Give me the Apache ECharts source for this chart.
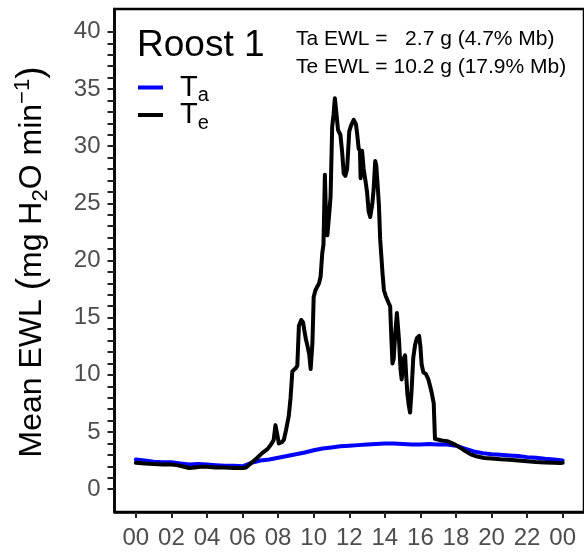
<!DOCTYPE html>
<html><head><meta charset="utf-8">
<script src="https://cdn.jsdelivr.net/npm/echarts@6/dist/echarts.min.js"></script>
<style>html,body{margin:0;padding:0;background:#fff}#c{width:584px;height:553px}</style>
</head><body><div id="c"></div>
<script>
// Ta (air temperature) EWL, mg H2O / min
const taHours  = [0,0.5,1,1.5,2,2.5,3,3.5,4,4.5,5,5.5,6,6.5,7,7.5,8,8.5,9,9.5,10,10.5,11,11.5,12,12.5,13,13.5,14,14.5,15,15.5,16,16.5,17,17.5,18,18.5,19,19.5,20,20.5,21,21.5,22,22.5,23,23.5,24];
const taValues = [2.6,2.5,2.4,2.35,2.35,2.25,2.15,2.2,2.15,2.1,2.05,2.05,2.0,2.3,2.5,2.6,2.75,2.9,3.05,3.2,3.4,3.55,3.65,3.75,3.8,3.85,3.9,3.95,4.0,4.0,3.95,3.9,3.9,3.95,3.9,3.9,3.8,3.55,3.3,3.15,3.05,3.0,2.95,2.9,2.8,2.75,2.65,2.6,2.5];
// Te (operative temperature) EWL
const teHours  = [0,0.5,1,1.5,2,2.3,2.6,3,3.3,3.6,4,4.5,5,5.5,6,6.2,6.5,6.8,7.1,7.4,7.6,7.75,7.85,7.95,8.04,8.2,8.32,8.45,8.6,8.7,8.8,9.0,9.08,9.17,9.3,9.4,9.55,9.64,9.75,9.83,9.93,10.0,10.1,10.2,10.3,10.39,10.48,10.55,10.63,10.7,10.77,10.88,10.95,11.04,11.12,11.19,11.27,11.37,11.5,11.6,11.69,11.78,11.88,12.0,12.1,12.25,12.38,12.45,12.53,12.6,12.64,12.72,12.81,12.9,13.0,13.09,13.18,13.3,13.37,13.46,13.52,13.6,13.67,13.74,13.8,13.87,13.95,14.05,14.21,14.3,14.36,14.43,14.5,14.58,14.68,14.73,14.8,14.88,14.95,15.05,15.14,15.2,15.27,15.35,15.42,15.5,15.6,15.7,15.8,15.93,16.0,16.07,16.17,16.3,16.45,16.55,16.64,16.75,16.82,16.9,17.2,17.5,17.8,18.0,18.27,18.5,18.83,19.2,19.6,20.0,20.5,21.0,21.5,22.0,22.5,23.0,23.5,23.87,24];
const teValues = [2.3,2.25,2.2,2.15,2.15,2.1,2.0,1.85,1.9,1.95,1.95,1.9,1.9,1.85,1.85,1.9,2.3,2.7,3.15,3.5,3.9,4.3,5.6,4.8,4.0,4.1,4.3,5.2,6.4,8.0,10.3,10.6,10.8,14.3,14.8,14.6,13.2,12.6,11.8,10.5,12.8,16.8,17.4,17.7,18.0,18.6,20.6,21.4,27.5,23.5,22.2,24.2,25.6,31.7,32.8,34.2,33.0,31.4,31.0,29.5,27.6,27.4,28.0,31.3,31.8,32.3,31.9,31.0,29.8,29.6,27.2,29.6,28.0,27.1,26.0,24.3,23.8,25.0,26.2,28.7,28.3,26.5,24.8,21.8,20.5,18.9,17.4,16.9,16.3,16.0,13.5,11.0,11.4,13.5,15.4,15.5,13.0,10.5,9.6,11.4,11.7,10.0,8.3,7.3,6.7,8.5,11.5,12.6,13.2,13.4,12.5,10.9,10.2,10.1,9.6,9.0,8.4,7.5,4.4,4.3,4.25,4.2,4.0,3.85,3.6,3.35,3.05,2.85,2.73,2.68,2.62,2.58,2.5,2.43,2.37,2.33,2.3,2.29,2.3];
const xTickHours = [0,2,4,6,8,10,12,14,16,18,20,22,24];
const yTickLabels = [0,5,10,15,20,25,30,35,40];
const yMinorTicks = [0,1,2,3,4,5,6,7,8,9,10,11,12,13,14,15,16,17,18,19,20,21,22,23,24,25,26,27,28,29,30,31,32,33,34,35,36,37,38,39,40];
const seriesNames = ['Ta','Te'];
const seriesColors = ['#0000ff','#000000'];
const summaryLines = ['Ta EWL =   2.7 g (4.7% Mb)','Te EWL = 10.2 g (17.9% Mb)'];
const panelTitle = 'Roost 1';

const FONT = '"Liberation Sans", Arial, Helvetica, sans-serif';
const chart = echarts.init(document.getElementById('c'), null, {renderer:'canvas'});
const pairs = (xs, ys) => xs.map((x,i)=>[x, ys[i]]);

chart.setOption({
  animation:false,
  backgroundColor:'#fff',
  grid:{left:114.5, right:-2.5, top:9, bottom:41, show:true, borderColor:'#000', borderWidth:2.5, containLabel:false},
  xAxis:{
    type:'value', min:-1.2, max:25.2,
    splitLine:{show:false},
    axisLine:{show:true, onZero:false, lineStyle:{color:'#000', width:2.5}},
    axisTick:{show:true, customValues:xTickHours, length:6, lineStyle:{color:'#222', width:2}},
    axisLabel:{customValues:xTickHours, color:'#4d4d4d', fontSize:24, fontFamily:FONT, margin:14,
      formatter:v=>String(Math.round(v)%24).padStart(2,'0')}
  },
  yAxis:{
    type:'value', min:-2, max:42,
    splitLine:{show:false},
    axisLine:{show:true, onZero:false, lineStyle:{color:'#000', width:2.5}},
    axisTick:{show:true, customValues:yMinorTicks, length:7, lineStyle:{color:'#222', width:2}},
    axisLabel:{customValues:yTickLabels, color:'#4d4d4d', fontSize:24, fontFamily:FONT, margin:14}
  },
  legend:{
    orient:'vertical', left:133, top:68, itemWidth:25, itemHeight:4, itemGap:-5, icon:'rect',
    data:seriesNames,
    formatter:n=>'{t|T}{s|'+n.slice(1)+'}',
    textStyle:{fontFamily:FONT, rich:{
      t:{fontSize:29, lineHeight:36, color:'#000', fontFamily:FONT, padding:[0,0,0,12]},
      s:{fontSize:20, lineHeight:20, color:'#000', fontFamily:FONT, verticalAlign:'bottom'}
    }}
  },
  series:seriesNames.map((n,i)=>({
    name:n, type:'line', data:pairs(i===0?taHours:teHours, i===0?taValues:teValues),
    showSymbol:false, symbol:'none', color:seriesColors[i],
    lineStyle:{color:seriesColors[i], width:4, join:'round', cap:'round'}, z:2+i
  })),
  graphic:[
    {type:'text', left:137, top:27, style:{text:panelTitle, font:'37px '+FONT, fill:'#000'}},
    {type:'text', left:296, top:29, style:{text:summaryLines[0], font:'21px '+FONT, fill:'#000'}},
    {type:'text', left:296, top:57, style:{text:summaryLines[1], font:'21px '+FONT, fill:'#000'}},
    {type:'text', x:32, y:262, rotation:Math.PI/2, style:{
      text:'{m|Mean EWL }{p|(}{m|mg H}{sub|2}{m|O min}{sup|−1}{p|)}',
      align:'center', verticalAlign:'middle',
      rich:{
        m:{fontSize:32, lineHeight:40, fontFamily:FONT, fill:'#000'},
        p:{fontSize:37, lineHeight:40, fontFamily:FONT, fill:'#000'},
        sub:{fontSize:22, lineHeight:22, fontFamily:FONT, fill:'#000', verticalAlign:'bottom'},
        sup:{fontSize:22, lineHeight:22, fontFamily:FONT, fill:'#000', verticalAlign:'top'}
      }}}
  ]
});
</script></body></html>
